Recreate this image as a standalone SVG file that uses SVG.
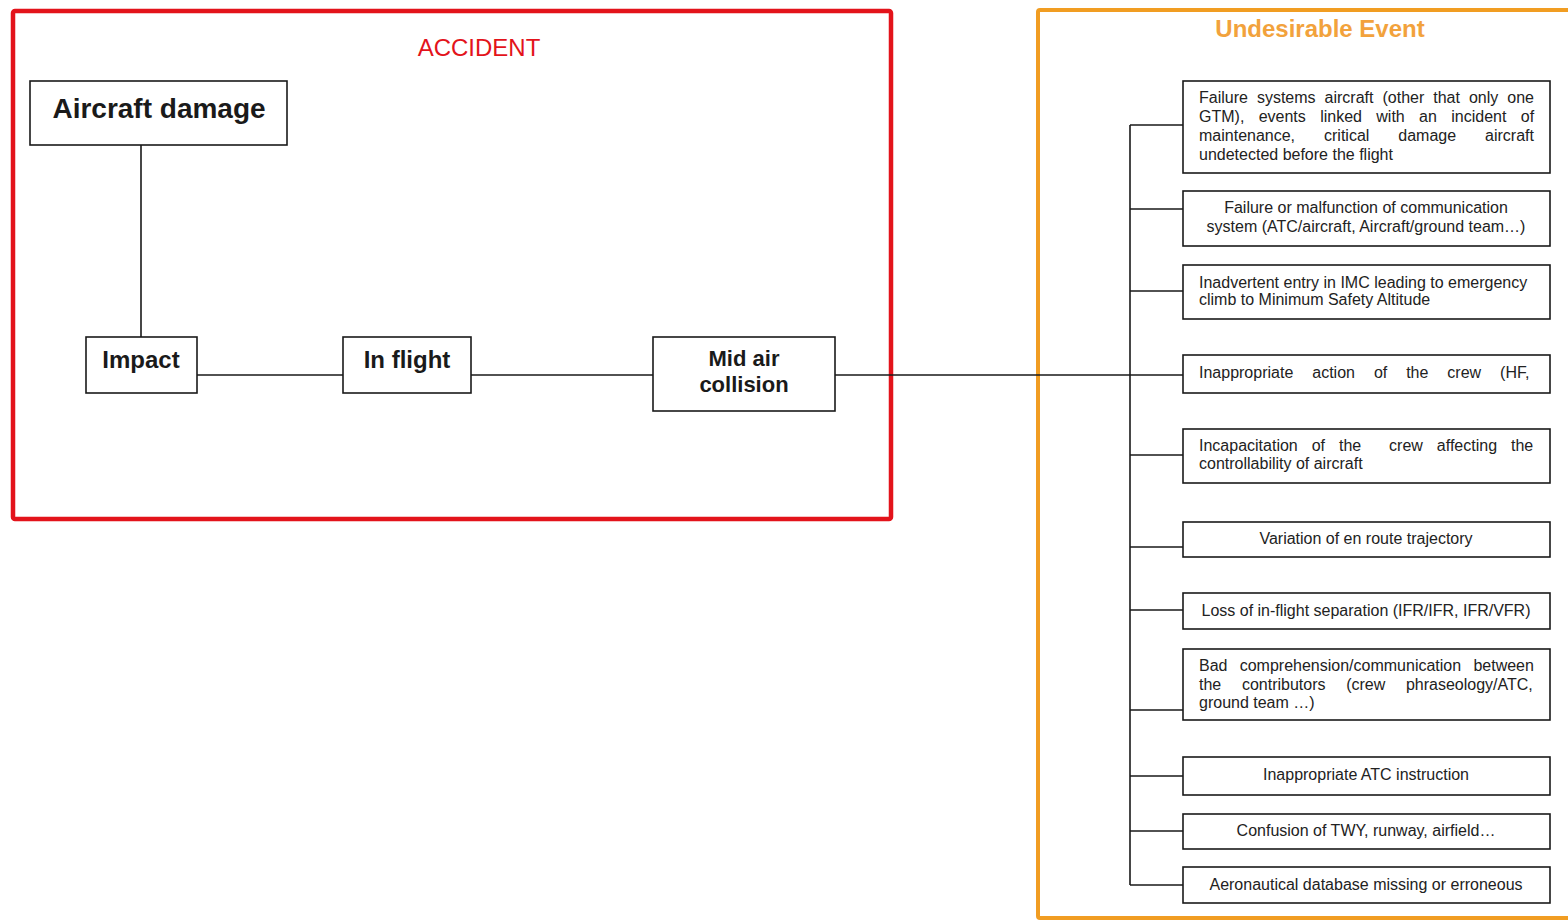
<svg xmlns="http://www.w3.org/2000/svg" width="1568" height="922" viewBox="0 0 1568 922">
<style>
.node{fill:#fff;stroke:#1a1a1a;stroke-width:1.6}
.big{font-family:"Liberation Sans",Arial,sans-serif;font-weight:bold;fill:#1a1a1a;text-anchor:middle}
.t{font-family:"Liberation Sans",Arial,sans-serif;font-size:16px;fill:#222}
.c{text-anchor:middle}
.ln{stroke:#1a1a1a;stroke-width:1.6;fill:none}
</style>
<rect width="1568" height="922" fill="#fff"/>
<g id="accident-frame">
<rect x="13" y="11" width="878" height="508" rx="2" fill="none" stroke="#e3131b" stroke-width="4.5"/>
<text x="479" y="56" font-family="Liberation Sans,Arial,sans-serif" font-size="24" fill="#e3131b" text-anchor="middle">ACCIDENT</text>
</g>
<g id="ue-frame">
<rect x="1038" y="10" width="540" height="908" rx="2" fill="none" stroke="#f19d22" stroke-width="4"/>
<text x="1320" y="37" font-family="Liberation Sans,Arial,sans-serif" font-size="24" font-weight="bold" fill="#f2a23c" text-anchor="middle">Undesirable Event</text>
</g>
<g id="connectors">
<path class="ln" d="M141 145V337M197 375H343M471 375H653M835 375H1130M1130 125V885"/>
<path class="ln" d="M1130 125H1183M1130 209H1183M1130 291H1183M1130 375H1183M1130 455H1183M1130 547H1183M1130 610H1183M1130 710H1183M1130 776H1183M1130 831H1183M1130 885H1183"/>
</g>
<g id="aircraft-damage">
<rect class="node" x="30" y="81" width="257" height="64"/>
<text class="big" x="159" y="118" font-size="28">Aircraft damage</text>
</g>
<g id="impact">
<rect class="node" x="86" y="337" width="111" height="56"/>
<text class="big" x="141" y="368" font-size="24">Impact</text>
</g>
<g id="in-flight">
<rect class="node" x="343" y="337" width="128" height="56"/>
<text class="big" x="407" y="368" font-size="24">In flight</text>
</g>
<g id="mid-air">
<rect class="node" x="653" y="337" width="182" height="74"/>
<text class="big" x="744" y="366" font-size="22">Mid air</text>
<text class="big" x="744" y="392" font-size="22">collision</text>
</g>
<g id="ue1">
<rect class="node" x="1183" y="81" width="367" height="92"/>
<text class="t" x="1199" y="103" word-spacing="4.55">Failure systems aircraft (other that only one</text>
<text class="t" x="1199" y="122" word-spacing="9.9">GTM), events linked with an incident of</text>
<text class="t" x="1199" y="141" word-spacing="24.5">maintenance, critical damage aircraft</text>
<text class="t" x="1199" y="160">undetected before the flight</text>
</g>
<g id="ue2">
<rect class="node" x="1183" y="191" width="367" height="55"/>
<text class="t c" x="1366" y="213">Failure or malfunction of communication</text>
<text class="t c" x="1366" y="232">system (ATC/aircraft, Aircraft/ground team…)</text>
</g>
<g id="ue3">
<rect class="node" x="1183" y="265" width="367" height="54"/>
<text class="t" x="1199" y="288">Inadvertent entry in IMC leading to emergency</text>
<text class="t" x="1199" y="305">climb to Minimum Safety Altitude</text>
</g>
<g id="ue4">
<rect class="node" x="1183" y="355" width="367" height="38"/>
<text class="t" x="1199" y="378" word-spacing="14.5">Inappropriate action of the crew (HF,</text>
</g>
<g id="ue5">
<rect class="node" x="1183" y="429" width="367" height="54"/>
<text class="t" x="1199" y="451" word-spacing="9.5" xml:space="preserve">Incapacitation of the  crew affecting the</text>
<text class="t" x="1199" y="469">controllability of aircraft</text>
</g>
<g id="ue6">
<rect class="node" x="1183" y="522" width="367" height="35"/>
<text class="t c" x="1366" y="544">Variation of en route trajectory</text>
</g>
<g id="ue7">
<rect class="node" x="1183" y="593" width="367" height="36"/>
<text class="t c" x="1366" y="616">Loss of in-flight separation (IFR/IFR, IFR/VFR)</text>
</g>
<g id="ue8">
<rect class="node" x="1183" y="649" width="367" height="71"/>
<text class="t" x="1199" y="671" word-spacing="7.8">Bad comprehension/communication between</text>
<text class="t" x="1199" y="690" word-spacing="16.2">the contributors (crew phraseology/ATC,</text>
<text class="t" x="1199" y="708">ground team …)</text>
</g>
<g id="ue9">
<rect class="node" x="1183" y="757" width="367" height="38"/>
<text class="t c" x="1366" y="780">Inappropriate ATC instruction</text>
</g>
<g id="ue10">
<rect class="node" x="1183" y="814" width="367" height="35"/>
<text class="t c" x="1366" y="836">Confusion of TWY, runway, airfield…</text>
</g>
<g id="ue11">
<rect class="node" x="1183" y="867" width="367" height="36"/>
<text class="t c" x="1366" y="890">Aeronautical database missing or erroneous</text>
</g>
</svg>
